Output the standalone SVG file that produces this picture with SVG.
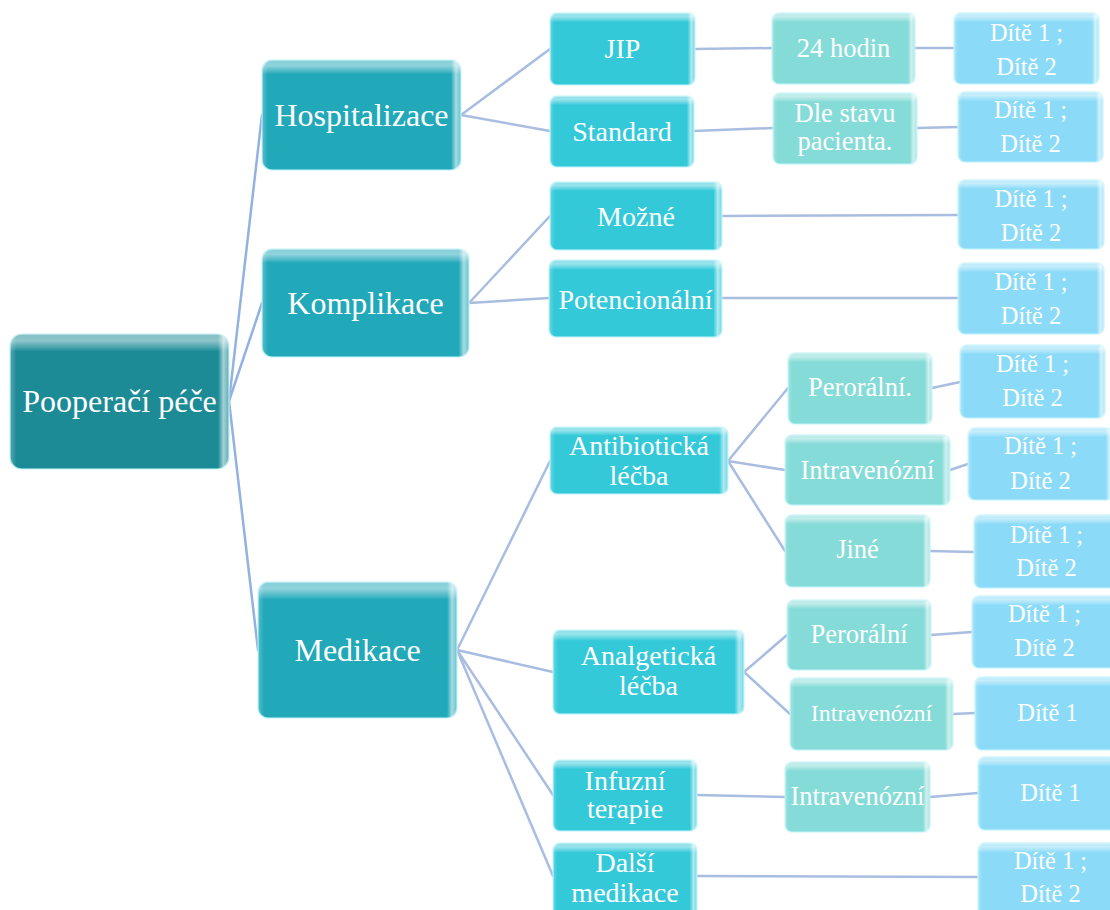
<svg xmlns="http://www.w3.org/2000/svg" width="1110" height="910" viewBox="0 0 1110 910">
<defs>
<linearGradient id="gTop" x1="0" y1="0" x2="0" y2="1">
<stop offset="0" stop-color="#fff" stop-opacity="0.45"/>
<stop offset="0.05" stop-color="#fff" stop-opacity="0.5"/>
<stop offset="0.1" stop-color="#fff" stop-opacity="0.2"/>
<stop offset="0.13" stop-color="#fff" stop-opacity="0"/>
<stop offset="1" stop-color="#fff" stop-opacity="0"/>
</linearGradient>
<linearGradient id="gSide" x1="0" y1="0" x2="1" y2="0">
<stop offset="0" stop-color="#fff" stop-opacity="0.25"/>
<stop offset="0.03" stop-color="#fff" stop-opacity="0"/>
<stop offset="0.95" stop-color="#fff" stop-opacity="0"/>
<stop offset="0.975" stop-color="#fff" stop-opacity="0.6"/>
<stop offset="1" stop-color="#fff" stop-opacity="0.3"/>
</linearGradient>
</defs>
<style>
.box{stroke:#bdf3f8;stroke-opacity:0.7;stroke-width:1.5}
.l0{fill:#1c8b96}
.l1{fill:#21a8b9}
.l2{fill:#33c9d9}
.l3{fill:#84dbd7}
.l4{fill:#8bdbf8}
.gt{fill:url(#gTop)}
.gs{fill:url(#gSide)}
text{fill:#fff;text-anchor:middle}
.t0{font-size:32px}
.t1{font-size:32px}
.t2{font-size:28px}
.t3{font-size:26.5px}
.t4{font-size:24.4px}
.conn line{stroke:#a9bde0;stroke-width:2.5;stroke-linecap:round}
.conn line.root{stroke:#93b2e2}
</style>

<g class="conn" id="connectors">
<line class="root" x1="229" y1="401" x2="262" y2="115"/>
<line class="root" x1="229" y1="401" x2="262" y2="303"/>
<line class="root" x1="229" y1="401" x2="258" y2="650"/>
<line x1="461" y1="115" x2="550" y2="49"/>
<line x1="461" y1="115" x2="550" y2="131"/>
<line x1="469" y1="303" x2="550" y2="216"/>
<line x1="469" y1="303" x2="549" y2="298"/>
<line x1="457" y1="650" x2="550" y2="461"/>
<line x1="457" y1="650" x2="553" y2="672"/>
<line x1="457" y1="650" x2="553" y2="795"/>
<line x1="457" y1="650" x2="553" y2="876"/>
<line x1="695" y1="49" x2="772" y2="48"/>
<line x1="915" y1="48" x2="954" y2="48"/>
<line x1="694" y1="131" x2="773" y2="128"/>
<line x1="917" y1="128" x2="958" y2="127"/>
<line x1="722" y1="216" x2="958" y2="215"/>
<line x1="722" y1="298" x2="958" y2="298"/>
<line x1="728" y1="461" x2="788" y2="388"/>
<line x1="728" y1="461" x2="785" y2="470"/>
<line x1="728" y1="461" x2="785" y2="551"/>
<line x1="932" y1="388" x2="960" y2="382"/>
<line x1="950" y1="470" x2="968" y2="464"/>
<line x1="930" y1="551" x2="974" y2="552"/>
<line x1="744" y1="672" x2="787" y2="635"/>
<line x1="744" y1="672" x2="790" y2="714"/>
<line x1="931" y1="635" x2="972" y2="632"/>
<line x1="953" y1="714" x2="975" y2="713"/>
<line x1="697" y1="795" x2="785" y2="797"/>
<line x1="930" y1="797" x2="978" y2="793"/>
<line x1="697" y1="876" x2="978" y2="877"/>
</g>

<g id="nodes" font-family="'Liberation Serif', 'Times New Roman', 'DejaVu Serif', serif">
<g id="n-root"><rect class="box l0" x="10" y="334" width="219" height="135" rx="12"/><rect class="gt" x="10" y="334" width="219" height="135" rx="12"/><rect class="gs" x="10" y="334" width="219" height="135" rx="12"/><text class="t0" x="119.5" y="412">Pooperačí péče</text></g>

<g id="n-hosp"><rect class="box l1" x="262" y="60" width="199" height="110" rx="10"/><rect class="gt" x="262" y="60" width="199" height="110" rx="10"/><rect class="gs" x="262" y="60" width="199" height="110" rx="10"/><text class="t1" x="361.5" y="126">Hospitalizace</text></g>
<g id="n-kompl"><rect class="box l1" x="262" y="249" width="207" height="108" rx="10"/><rect class="gt" x="262" y="249" width="207" height="108" rx="10"/><rect class="gs" x="262" y="249" width="207" height="108" rx="10"/><text class="t1" x="365.5" y="314">Komplikace</text></g>
<g id="n-medik"><rect class="box l1" x="258" y="582" width="199" height="136" rx="10"/><rect class="gt" x="258" y="582" width="199" height="136" rx="10"/><rect class="gs" x="258" y="582" width="199" height="136" rx="10"/><text class="t1" x="357.5" y="661">Medikace</text></g>

<g id="n-jip"><rect class="box l2" x="550" y="13" width="145" height="72" rx="7"/><rect class="gt" x="550" y="13" width="145" height="72" rx="7"/><rect class="gs" x="550" y="13" width="145" height="72" rx="7"/><text class="t2" x="622.5" y="58">JIP</text></g>
<g id="n-standard"><rect class="box l2" x="550" y="96" width="144" height="71" rx="7"/><rect class="gt" x="550" y="96" width="144" height="71" rx="7"/><rect class="gs" x="550" y="96" width="144" height="71" rx="7"/><text class="t2" x="622" y="141">Standard</text></g>
<g id="n-mozne"><rect class="box l2" x="550" y="182" width="172" height="68" rx="7"/><rect class="gt" x="550" y="182" width="172" height="68" rx="7"/><rect class="gs" x="550" y="182" width="172" height="68" rx="7"/><text class="t2" x="636" y="226">Možné</text></g>
<g id="n-poten"><rect class="box l2" x="549" y="260" width="173" height="77" rx="7"/><rect class="gt" x="549" y="260" width="173" height="77" rx="7"/><rect class="gs" x="549" y="260" width="173" height="77" rx="7"/><text class="t2" x="635.5" y="309">Potencionální</text></g>
<g id="n-antib"><rect class="box l2" x="550" y="427" width="178" height="67" rx="7"/><rect class="gt" x="550" y="427" width="178" height="67" rx="7"/><rect class="gs" x="550" y="427" width="178" height="67" rx="7"/><text class="t2" x="639" y="455">Antibiotická</text><text class="t2" x="639" y="485">léčba</text></g>
<g id="n-analg"><rect class="box l2" x="553" y="630" width="191" height="84" rx="7"/><rect class="gt" x="553" y="630" width="191" height="84" rx="7"/><rect class="gs" x="553" y="630" width="191" height="84" rx="7"/><text class="t2" x="648.5" y="665">Analgetická</text><text class="t2" x="648.5" y="695">léčba</text></g>
<g id="n-infuz"><rect class="box l2" x="553" y="760" width="144" height="71" rx="7"/><rect class="gt" x="553" y="760" width="144" height="71" rx="7"/><rect class="gs" x="553" y="760" width="144" height="71" rx="7"/><text class="t2" x="625" y="790">Infuzní</text><text class="t2" x="625" y="818">terapie</text></g>
<g id="n-dalsi"><rect class="box l2" x="553" y="843" width="144" height="75" rx="7"/><rect class="gt" x="553" y="843" width="144" height="75" rx="7"/><rect class="gs" x="553" y="843" width="144" height="75" rx="7"/><text class="t2" x="625" y="872">Další</text><text class="t2" x="625" y="902">medikace</text></g>

<g id="n-24h"><rect class="box l3" x="772" y="13" width="143" height="71" rx="7"/><rect class="gt" x="772" y="13" width="143" height="71" rx="7"/><rect class="gs" x="772" y="13" width="143" height="71" rx="7"/><text class="t3" x="843.5" y="57">24 hodin</text></g>
<g id="n-dle"><rect class="box l3" x="773" y="93" width="144" height="71" rx="7"/><rect class="gt" x="773" y="93" width="144" height="71" rx="7"/><rect class="gs" x="773" y="93" width="144" height="71" rx="7"/><text class="t3" x="845" y="122">Dle stavu</text><text class="t3" x="845" y="150">pacienta.</text></g>
<g id="n-per1"><rect class="box l3" x="788" y="353" width="144" height="71" rx="7"/><rect class="gt" x="788" y="353" width="144" height="71" rx="7"/><rect class="gs" x="788" y="353" width="144" height="71" rx="7"/><text class="t3" x="860" y="396">Perorální.</text></g>
<g id="n-iv1"><rect class="box l3" x="785" y="435" width="165" height="70" rx="7"/><rect class="gt" x="785" y="435" width="165" height="70" rx="7"/><rect class="gs" x="785" y="435" width="165" height="70" rx="7"/><text class="t3" x="867.5" y="479">Intravenózní</text></g>
<g id="n-jine"><rect class="box l3" x="785" y="515" width="145" height="72" rx="7"/><rect class="gt" x="785" y="515" width="145" height="72" rx="7"/><rect class="gs" x="785" y="515" width="145" height="72" rx="7"/><text class="t3" x="857.5" y="558">Jiné</text></g>
<g id="n-per2"><rect class="box l3" x="787" y="600" width="144" height="70" rx="7"/><rect class="gt" x="787" y="600" width="144" height="70" rx="7"/><rect class="gs" x="787" y="600" width="144" height="70" rx="7"/><text class="t3" x="859" y="643">Perorální</text></g>
<g id="n-iv2"><rect class="box l3" x="790" y="678" width="163" height="72" rx="7"/><rect class="gt" x="790" y="678" width="163" height="72" rx="7"/><rect class="gs" x="790" y="678" width="163" height="72" rx="7"/><text class="t3" x="871.5" y="721" style="font-size:24px">Intravenózní</text></g>
<g id="n-iv3"><rect class="box l3" x="785" y="762" width="145" height="70" rx="7"/><rect class="gt" x="785" y="762" width="145" height="70" rx="7"/><rect class="gs" x="785" y="762" width="145" height="70" rx="7"/><text class="t3" x="857.5" y="805">Intravenózní</text></g>

<g id="n-d1"><rect class="box l4" x="954" y="13" width="145" height="71" rx="7"/><rect class="gt" x="954" y="13" width="145" height="71" rx="7"/><rect class="gs" x="954" y="13" width="145" height="71" rx="7"/><text class="t4" x="1026.5" y="41">Dítě 1 ;</text><text class="t4" x="1026.5" y="75">Dítě 2</text></g>
<g id="n-d2"><rect class="box l4" x="958" y="92" width="145" height="70" rx="7"/><rect class="gt" x="958" y="92" width="145" height="70" rx="7"/><rect class="gs" x="958" y="92" width="145" height="70" rx="7"/><text class="t4" x="1030.5" y="118">Dítě 1 ;</text><text class="t4" x="1030.5" y="152">Dítě 2</text></g>
<g id="n-d3"><rect class="box l4" x="958" y="180" width="146" height="69" rx="7"/><rect class="gt" x="958" y="180" width="146" height="69" rx="7"/><rect class="gs" x="958" y="180" width="146" height="69" rx="7"/><text class="t4" x="1031" y="207">Dítě 1 ;</text><text class="t4" x="1031" y="241">Dítě 2</text></g>
<g id="n-d4"><rect class="box l4" x="958" y="263" width="146" height="71" rx="7"/><rect class="gt" x="958" y="263" width="146" height="71" rx="7"/><rect class="gs" x="958" y="263" width="146" height="71" rx="7"/><text class="t4" x="1031" y="290">Dítě 1 ;</text><text class="t4" x="1031" y="324">Dítě 2</text></g>
<g id="n-d5"><rect class="box l4" x="960" y="345" width="145" height="73" rx="7"/><rect class="gt" x="960" y="345" width="145" height="73" rx="7"/><rect class="gs" x="960" y="345" width="145" height="73" rx="7"/><text class="t4" x="1032.5" y="372">Dítě 1 ;</text><text class="t4" x="1032.5" y="406">Dítě 2</text></g>
<g id="n-d6"><rect class="box l4" x="968" y="428" width="145" height="72" rx="7"/><rect class="gt" x="968" y="428" width="145" height="72" rx="7"/><rect class="gs" x="968" y="428" width="145" height="72" rx="7"/><text class="t4" x="1040.5" y="454">Dítě 1 ;</text><text class="t4" x="1040.5" y="489">Dítě 2</text></g>
<g id="n-d7"><rect class="box l4" x="974" y="515" width="145" height="73" rx="7"/><rect class="gt" x="974" y="515" width="145" height="73" rx="7"/><rect class="gs" x="974" y="515" width="145" height="73" rx="7"/><text class="t4" x="1046.5" y="543">Dítě 1 ;</text><text class="t4" x="1046.5" y="576">Dítě 2</text></g>
<g id="n-d8"><rect class="box l4" x="972" y="596" width="145" height="72" rx="7"/><rect class="gt" x="972" y="596" width="145" height="72" rx="7"/><rect class="gs" x="972" y="596" width="145" height="72" rx="7"/><text class="t4" x="1044.5" y="622">Dítě 1 ;</text><text class="t4" x="1044.5" y="656">Dítě 2</text></g>
<g id="n-d9"><rect class="box l4" x="975" y="677" width="145" height="73" rx="7"/><rect class="gt" x="975" y="677" width="145" height="73" rx="7"/><rect class="gs" x="975" y="677" width="145" height="73" rx="7"/><text class="t4" x="1047.5" y="721">Dítě 1</text></g>
<g id="n-d10"><rect class="box l4" x="978" y="757" width="145" height="73" rx="7"/><rect class="gt" x="978" y="757" width="145" height="73" rx="7"/><rect class="gs" x="978" y="757" width="145" height="73" rx="7"/><text class="t4" x="1050.5" y="801">Dítě 1</text></g>
<g id="n-d11"><rect class="box l4" x="978" y="843" width="145" height="75" rx="7"/><rect class="gt" x="978" y="843" width="145" height="75" rx="7"/><rect class="gs" x="978" y="843" width="145" height="75" rx="7"/><text class="t4" x="1050.5" y="869">Dítě 1 ;</text><text class="t4" x="1050.5" y="902">Dítě 2</text></g>
</g>
</svg>
